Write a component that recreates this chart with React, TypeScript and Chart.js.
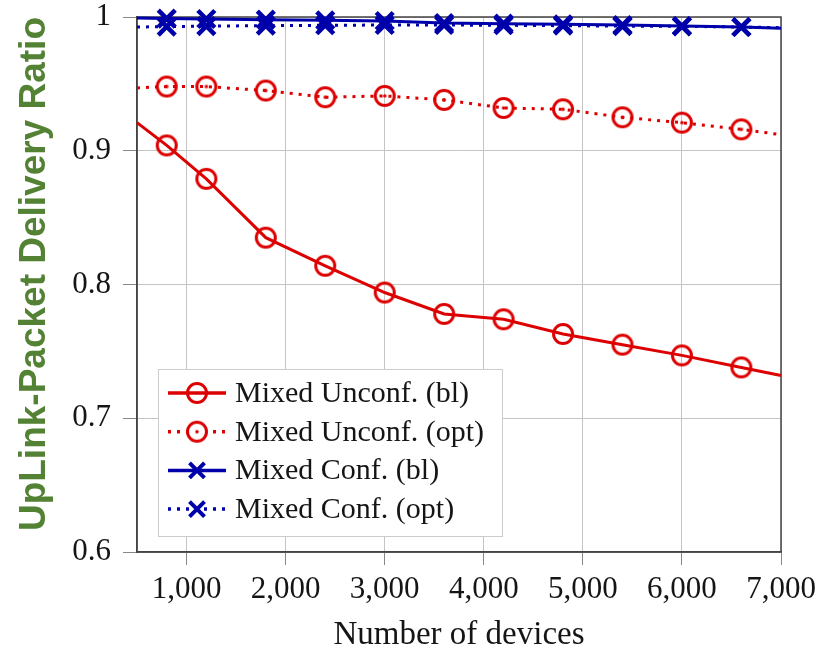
import { useEffect, useRef } from 'react';
import { Chart, registerables } from 'chart.js';

Chart.register(...registerables);

// ---- data ----
const devices = [500, 800, 1200, 1800, 2400, 3000, 3600, 4200, 4800, 5400, 6000, 6600, 7000];
const unconfBl = [0.921, 0.904, 0.879, 0.835, 0.814, 0.794, 0.778, 0.774, 0.763, 0.755, 0.747, 0.738, 0.732];
const unconfOpt = [0.947, 0.948, 0.948, 0.945, 0.94, 0.941, 0.938, 0.932, 0.931, 0.925, 0.921, 0.916, 0.912];
const confBl = [0.9992, 0.9988, 0.9985, 0.998, 0.9975, 0.997, 0.9955, 0.995, 0.9945, 0.994, 0.9932, 0.9925, 0.9915];
const confOpt = [0.9925, 0.9928, 0.9932, 0.9935, 0.9938, 0.994, 0.994, 0.9938, 0.9935, 0.9932, 0.993, 0.9925, 0.992];
const seriesNames = ['Mixed Unconf. (bl)', 'Mixed Unconf. (opt)', 'Mixed Conf. (bl)', 'Mixed Conf. (opt)'];
const xTicks = [1000, 2000, 3000, 4000, 5000, 6000, 7000];
const xTickLabels = ['1,000', '2,000', '3,000', '4,000', '5,000', '6,000', '7,000'];
const yTicks = [0.6, 0.7, 0.8, 0.9, 1];
const yTickLabels = ['0.6', '0.7', '0.8', '0.9', '1'];
const xTitle = 'Number of devices';
const yTitle = 'UpLink-Packet Delivery Ratio';

const RED = '#dd0000';
const BLUE = '#0000aa';
const SERIF = "'Liberation Serif', 'DejaVu Serif', serif";

function circleMarker(dot: boolean): HTMLCanvasElement {
  const c = document.createElement('canvas');
  c.width = 28;
  c.height = 28;
  const ctx = c.getContext('2d')!;
  ctx.strokeStyle = RED;
  ctx.lineWidth = 3;
  ctx.beginPath();
  ctx.arc(14, 14, 9.5, 0, Math.PI * 2);
  ctx.stroke();
  if (dot) {
    ctx.fillStyle = RED;
    ctx.beginPath();
    ctx.arc(14, 14, 1.8, 0, Math.PI * 2);
    ctx.fill();
  }
  return c;
}

export default function App() {
  const ref = useRef<HTMLCanvasElement | null>(null);

  useEffect(() => {
    document.body.style.margin = '0';
    const canvas = ref.current;
    if (!canvas) return;
    const circ = circleMarker(false);
    const circDot = circleMarker(true);
    const n = devices.length;
    const radii = devices.map((_, i) => (i === 0 || i === n - 1 ? 0 : 9.5));
    const crossRadii = devices.map((_, i) => (i === 0 || i === n - 1 ? 0 : 12));
    const pts = (arr: number[]) => devices.map((x, i) => ({ x, y: arr[i] }));

    const frame = {
      id: 'frame',
      beforeDatasetsDraw(chart: any) {
        const { ctx, chartArea: a } = chart;
        ctx.save();
        ctx.strokeStyle = '#444';
        ctx.lineWidth = 1.5;
        ctx.strokeRect(a.left, a.top, a.right - a.left, a.bottom - a.top);
        ctx.restore();
      },
    };

    const legendPlugin = {
      id: 'customLegend',
      afterDraw(chart: any) {
        const { ctx, chartArea: a } = chart;
        const bx = a.left + 21;
        const by = a.top + 352;
        const bw = 344;
        const bh = 167;
        ctx.save();
        ctx.fillStyle = '#fff';
        ctx.fillRect(bx, by, bw, bh);
        ctx.strokeStyle = '#cccccc';
        ctx.lineWidth = 1;
        ctx.strokeRect(bx + 0.5, by + 0.5, bw, bh);
        const styles = [
          { color: RED, dash: [], marker: 'circ' },
          { color: RED, dash: [3, 6], marker: 'circDot' },
          { color: BLUE, dash: [], marker: 'cross' },
          { color: BLUE, dash: [3, 6], marker: 'cross' },
        ];
        styles.forEach((s, i) => {
          const y = by + 24 + i * 38.7;
          const x0 = bx + 10;
          const x1 = bx + 68;
          const xm = bx + 39;
          ctx.strokeStyle = s.color;
          ctx.lineWidth = 3.5;
          ctx.setLineDash(s.dash);
          ctx.beginPath();
          ctx.moveTo(x0, y);
          ctx.lineTo(x1, y);
          ctx.stroke();
          ctx.setLineDash([]);
          if (s.marker === 'cross') {
            const h = 7.5;
            ctx.lineWidth = 4;
            ctx.beginPath();
            ctx.moveTo(xm - h, y - h);
            ctx.lineTo(xm + h, y + h);
            ctx.moveTo(xm - h, y + h);
            ctx.lineTo(xm + h, y - h);
            ctx.stroke();
          } else {
            const img = s.marker === 'circ' ? circ : circDot;
            ctx.fillStyle = '#fff';
            ctx.beginPath();
            ctx.arc(xm, y, 9, 0, Math.PI * 2);
            ctx.fill();
            if (s.marker !== 'circDot') {
              ctx.strokeStyle = s.color;
              ctx.lineWidth = 3.5;
              ctx.beginPath();
              ctx.moveTo(xm - 9, y);
              ctx.lineTo(xm + 9, y);
              ctx.stroke();
            }
            ctx.drawImage(img, xm - img.width / 2, y - img.height / 2);
          }
          ctx.fillStyle = '#151515';
          ctx.font = `30px ${SERIF}`;
          ctx.textBaseline = 'middle';
          ctx.textAlign = 'left';
          ctx.fillText(seriesNames[i], bx + 77, y + 1);
        });
        ctx.restore();
      },
    };

    const chart = new Chart(canvas, {
      type: 'line',
      data: {
        datasets: [
          {
            label: seriesNames[0],
            data: pts(unconfBl),
            borderColor: RED,
            borderWidth: 3,
            pointStyle: circ,
            pointRadius: radii,
            clip: false,
          },
          {
            label: seriesNames[1],
            data: pts(unconfOpt),
            borderColor: RED,
            borderWidth: 3,
            borderDash: [3, 6],
            pointStyle: circDot,
            pointRadius: radii,
            clip: false,
          },
          {
            label: seriesNames[2],
            data: pts(confBl),
            borderColor: BLUE,
            borderWidth: 3,
            pointStyle: 'crossRot',
            pointRadius: crossRadii,
            pointBorderWidth: 4.5,
            pointBorderColor: BLUE,
            clip: false,
          },
          {
            label: seriesNames[3],
            data: pts(confOpt),
            borderColor: BLUE,
            borderWidth: 3,
            borderDash: [3, 6],
            pointStyle: 'crossRot',
            pointRadius: crossRadii,
            pointBorderWidth: 4.5,
            pointBorderColor: BLUE,
            clip: false,
          },
        ],
      },
      options: {
        responsive: false,
        animation: false,
        layout: { padding: { top: 17, right: 53, left: 0, bottom: 0 } },
        plugins: { legend: { display: false }, tooltip: { enabled: false } },
        elements: { line: { tension: 0 } },
        scales: {
          x: {
            type: 'linear',
            min: 500,
            max: 7000,
            afterBuildTicks: (s: any) => {
              s.ticks = xTicks.map((v) => ({ value: v }));
            },
            afterFit: (s: any) => {
              s.height = 103;
              s.paddingLeft = 0;
              s.paddingRight = 0;
            },
            ticks: {
              autoSkip: false,
              maxRotation: 0,
              padding: 6,
              color: '#151515',
              font: { family: SERIF, size: 31 },
              callback: (v: any) => {
                const i = xTicks.indexOf(Number(v));
                return i >= 0 ? xTickLabels[i] : '';
              },
            },
            grid: { color: '#c4c4c4', lineWidth: 1, tickLength: 13, tickColor: '#888' },
            border: { display: true, color: '#444', width: 1.5 },
            title: {
              display: true,
              text: xTitle,
              color: '#151515',
              font: { family: SERIF, size: 33 },
              padding: { top: 0, bottom: 0 },
            },
          },
          y: {
            type: 'linear',
            min: 0.6,
            max: 1,
            afterBuildTicks: (s: any) => {
              s.ticks = yTicks.map((v) => ({ value: v }));
            },
            afterFit: (s: any) => {
              s.width = 137;
              s.paddingTop = 0;
              s.paddingBottom = 0;
            },
            ticks: {
              padding: 12,
              color: '#151515',
              font: { family: SERIF, size: 31 },
              callback: (v: any) => {
                const i = yTicks.findIndex((t) => Math.abs(t - Number(v)) < 1e-9);
                return i >= 0 ? yTickLabels[i] : '';
              },
            },
            grid: { color: '#c4c4c4', lineWidth: 1, tickLength: 14, tickColor: '#888' },
            border: { display: true, color: '#444', width: 1.5 },
            title: {
              display: true,
              text: yTitle,
              align: 'end',
              color: '#548235',
              font: { family: "'Liberation Sans', Arial, sans-serif", size: 37, weight: 'bold' },
              padding: { top: 13, bottom: 0 },
            },
          },
        },
      },
      plugins: [frame, legendPlugin],
    } as any);

    return () => chart.destroy();
  }, []);

  return (
    <div style={{ width: 834, height: 655 }}>
      <canvas ref={ref} width={834} height={655} />
    </div>
  );
}
